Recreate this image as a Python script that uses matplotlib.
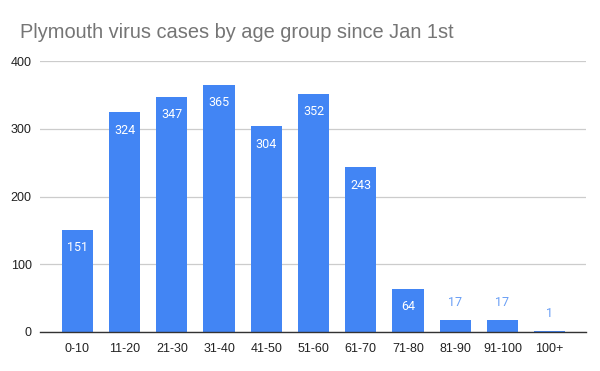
import matplotlib
matplotlib.use("Agg")
import matplotlib.pyplot as plt

categories = ["0-10", "11-20", "21-30", "31-40", "41-50", "51-60", "61-70",
              "71-80", "81-90", "91-100", "100+"]
cases = [151, 324, 347, 365, 304, 352, 243, 64, 17, 17, 1]
yticks = [0, 100, 200, 300, 400]

plt.rcParams['font.family'] = ['Liberation Sans', 'DejaVu Sans']

fig = plt.figure(figsize=(6, 3.71), dpi=100)
ax = fig.add_axes([40/600, 1-332/371, 546/600, (332-61)/371])

x = list(range(len(categories)))
bars = ax.bar(x, cases, width=0.66, color="#4285F4", zorder=3)

ax.set_xlim(-0.79, 10.77)
ax.set_ylim(0, 400)
ax.set_yticks(yticks)
ax.set_yticklabels([str(t) for t in yticks])
ax.set_xticks(x)
ax.set_xticklabels(categories)

for s in ["top", "right", "left"]:
    ax.spines[s].set_visible(False)
ax.spines["bottom"].set_color("#333333")
ax.spines["bottom"].set_linewidth(1.0)
ax.spines["bottom"].set_zorder(4)
ax.grid(axis="y", color="#cccccc", linewidth=0.9, zorder=0)
ax.tick_params(axis="both", length=0, labelsize=9, colors="#222222")
ax.tick_params(axis="y", pad=6)
ax.tick_params(axis="x", pad=8)

for xi, v in zip(x, cases):
    if v > 40:
        ax.annotate(str(v), (xi, v), xytext=(0, -13), textcoords="offset points",
                    ha="center", va="center", color="white", fontsize=9,
                    family=["Roboto", "DejaVu Sans"], zorder=5)
    else:
        ax.annotate(str(v), (xi, v), xytext=(0, 13), textcoords="offset points",
                    ha="center", va="center", color="#6a9ff5", fontsize=9,
                    family=["Roboto", "DejaVu Sans"], zorder=5)

fig.text(20/600, 1-33/371, "Plymouth virus cases by age group since Jan 1st",
         fontsize=14.4, color="#757575", ha="left", va="center")

fig.savefig("out.png", dpi=100)
